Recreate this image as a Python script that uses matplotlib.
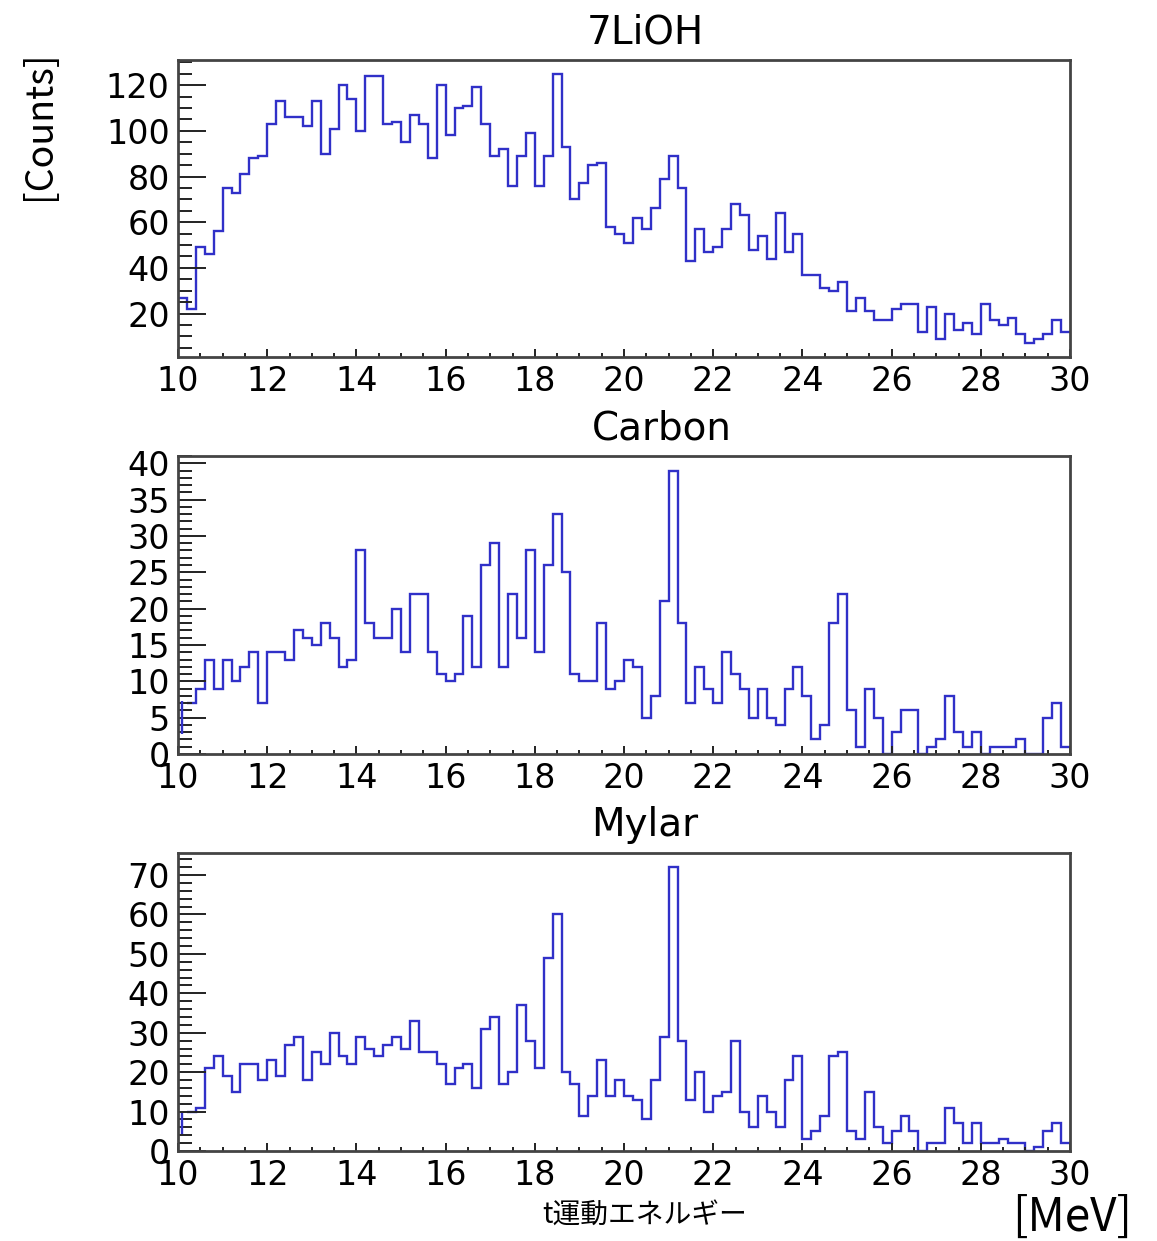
import matplotlib.pyplot as plt
import numpy as np
from matplotlib.ticker import MultipleLocator

plt.rcParams['font.family'] = ['DejaVu Sans', 'Noto Sans CJK JP']

# counts per 0.2 MeV bin, 10 -> 30 MeV (100 bins)
bin_edges = np.linspace(10, 30, 101)

lioh = [27, 22, 49, 46, 56, 75, 73, 81, 88, 89,
        103, 113, 106, 106, 102, 113, 90, 101, 120, 114,
        100, 124, 124, 103, 104, 95, 107, 103, 88, 120,
        98, 110, 111, 119, 103, 89, 92, 76, 89, 99,
        76, 89, 125, 93, 70, 77, 85, 86, 58, 55,
        51, 62, 57, 66, 79, 89, 75, 43, 57, 47,
        49, 57, 68, 63, 48, 54, 44, 64, 47, 55,
        37, 37, 31, 30, 34, 21, 27, 21, 17, 17,
        22, 24, 24, 12, 23, 9, 20, 13, 16, 11,
        24, 17, 15, 18, 11, 7, 9, 11, 17, 12]

carbon = [5, 7, 9, 13, 9, 13, 10, 12, 14, 7,
          14, 14, 13, 17, 16, 15, 18, 16, 12, 13,
          28, 18, 16, 16, 20, 14, 22, 22, 14, 11,
          10, 11, 19, 12, 26, 29, 12, 22, 16, 28,
          14, 26, 33, 25, 11, 10, 10, 18, 9, 10,
          13, 12, 5, 8, 21, 39, 18, 7, 12, 9,
          7, 14, 11, 9, 5, 9, 5, 4, 9, 12,
          8, 2, 4, 18, 22, 6, 1, 9, 5, 0,
          3, 6, 6, 0, 1, 2, 8, 3, 1, 3,
          0, 1, 1, 1, 2, 0, 0, 5, 7, 1]

mylar = [7, 10, 11, 21, 24, 19, 15, 22, 22, 18,
         23, 19, 27, 29, 18, 25, 22, 30, 24, 22,
         29, 26, 24, 27, 29, 26, 33, 25, 25, 22,
         17, 21, 22, 16, 31, 34, 17, 20, 37, 28,
         21, 49, 60, 20, 17, 9, 14, 23, 14, 18,
         14, 13, 8, 18, 29, 72, 28, 13, 20, 10,
         14, 15, 28, 10, 6, 14, 10, 6, 18, 24,
         3, 5, 9, 24, 25, 5, 3, 15, 6, 2,
         5, 9, 5, 0, 2, 2, 11, 7, 2, 7,
         2, 2, 3, 2, 2, 0, 1, 5, 7, 2]

titles = ['7LiOH', 'Carbon', 'Mylar']
W, H = 1157, 1241

fig = plt.figure(figsize=(W / 100, H / 100), dpi=100)

# (data, ylim, major, minor, top px, bottom px, title x px, title y px, first bin as error bar)
panels = [
    (lioh, (1, 131), 20, 5, 60, 357, 645, 32, False),
    (carbon, (0, 41), 5, 1, 456, 754, 662, 428, True),
    (mylar, (0, 75.6), 10, 2, 853, 1151, 645, 825, True),
]

line_col = '#3030c8'
for (vals, ylim, major, minor, top, bot, tx, ty, errfirst), title in zip(panels, titles):
    ax = fig.add_axes([178 / W, 1 - bot / H, (1070 - 178) / W, (bot - top) / H])
    vals = np.array(vals, dtype=float)
    if errfirst:
        ax.stairs(vals[1:], bin_edges[1:], baseline=None, color=line_col, lw=1.7)
        ax.errorbar([(bin_edges[0] + bin_edges[1]) / 2], [vals[0]], yerr=[np.sqrt(vals[0])],
                    fmt='none', ecolor=line_col, elinewidth=1.7)
    else:
        ax.stairs(vals, bin_edges, baseline=None, color=line_col, lw=1.7)
    ax.set_xlim(10, 30)
    ax.set_ylim(*ylim)
    ax.xaxis.set_major_locator(MultipleLocator(2))
    ax.xaxis.set_minor_locator(MultipleLocator(0.5))
    ax.yaxis.set_major_locator(MultipleLocator(major))
    ax.yaxis.set_minor_locator(MultipleLocator(minor))
    ax.tick_params(which='both', direction='in', top=False, right=False,
                   color='#222222', labelcolor='black', width=1.4)
    ax.tick_params(axis='y', which='major', length=20, pad=6, labelsize=24)
    ax.tick_params(axis='y', which='minor', length=10)
    ax.tick_params(axis='x', which='major', length=6, pad=6, labelsize=24)
    ax.tick_params(axis='x', which='minor', length=3)
    for s in ax.spines.values():
        s.set_color('#444444')
        s.set_linewidth(2)
    fig.text(tx / W, 1 - ty / H, title, ha='center', va='center', fontsize=28)

fig.text(40 / W, 1 - 125 / H, '[Counts]', rotation=90, ha='center', va='center',
         fontsize=27, family=['Noto Sans CJK JP', 'DejaVu Sans'])
fig.text(645 / W, 1 - 1215 / H, 't運動エネルギー', ha='center', va='center',
         fontsize=20, family=['Noto Sans CJK JP', 'DejaVu Sans'])
fig.text(1072 / W, 1 - 1218 / H, '[MeV]', ha='center', va='center',
         fontsize=33, family=['Noto Sans CJK JP', 'DejaVu Sans'])

fig.savefig('out.png', dpi=100)
